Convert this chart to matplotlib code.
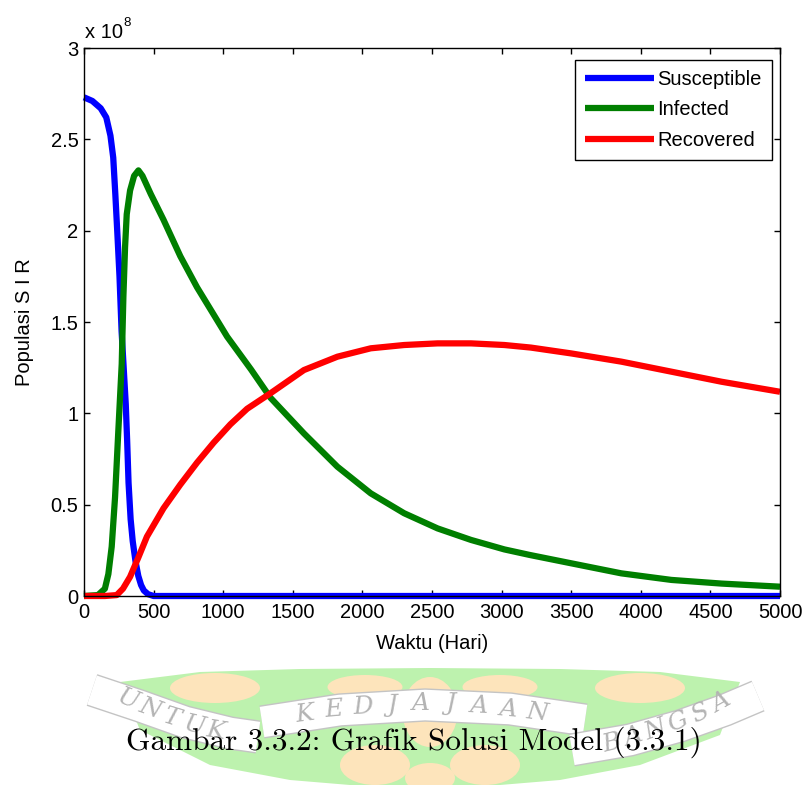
import numpy as np
import matplotlib.pyplot as plt
from matplotlib.patches import Polygon, Ellipse

plt.rcParams['font.family'] = ['Liberation Sans', 'DejaVu Sans']

# populasi dalam satuan 1e8
t_s = [0, 60, 120, 160, 190, 210, 225, 240, 255, 270, 285, 300, 310, 320, 335, 350, 370, 390, 410, 430, 460, 500, 1000, 5000]
s_val = [2.73, 2.71, 2.67, 2.62, 2.52, 2.40, 2.20, 1.98, 1.75, 1.45, 1.25, 1.05, 0.85, 0.62, 0.42, 0.30, 0.19, 0.11, 0.06, 0.03, 0.01, 0.0, 0.0, 0.0]

t_i = [0, 100, 150, 175, 199, 223, 247, 271, 283, 295, 307, 331, 360, 391, 420, 480, 571, 692, 812, 1028, 1200, 1340,
       1580, 1820, 2060, 2300, 2540, 2780, 3020, 3200, 3500, 3860, 4220, 4580, 5000]
i_val = [0.0, 0.005, 0.04, 0.12, 0.27, 0.54, 0.91, 1.27, 1.64, 1.91, 2.09, 2.22, 2.30, 2.33, 2.30, 2.20, 2.06, 1.86, 1.69, 1.42, 1.24, 1.085,
         0.89, 0.708, 0.562, 0.453, 0.37, 0.307, 0.255, 0.225, 0.179, 0.124, 0.088, 0.068, 0.051]

t_r = [0, 150, 235, 280, 331, 390, 452, 571, 692, 812, 932, 1052, 1172, 1340, 1580, 1820, 2060, 2300, 2540, 2780, 3020,
       3210, 3500, 3860, 4220, 4580, 5000]
r_val = [0.0, 0.0, 0.005, 0.04, 0.105, 0.21, 0.325, 0.48, 0.61, 0.73, 0.84, 0.94, 1.025, 1.11, 1.237, 1.31, 1.356, 1.374, 1.383, 1.383, 1.374,
         1.36, 1.328, 1.283, 1.228, 1.173, 1.118]

labels = ['Susceptible', 'Infected', 'Recovered']
line_colors = ['#0000ff', '#007f00', '#ff0000']
x_ticks = np.arange(0, 5001, 500)
y_ticks = np.arange(0, 3.01, 0.5)

fig = plt.figure(figsize=(8.05, 7.85), dpi=100)

# latar untuk teks & watermark (koordinat piksel)
bg = fig.add_axes([0, 0, 1, 1], zorder=0)
bg.set_xlim(0, 805)
bg.set_ylim(785, 0)
bg.axis('off')

green = Polygon([(120, 682), (200, 672), (300, 669), (430, 668), (560, 669), (660, 672), (740, 682),
                 (720, 735), (640, 765), (560, 780), (500, 785), (350, 785), (290, 780), (210, 765), (140, 730)],
                closed=True, fc='#bdf2ae', ec='none')
bg.add_patch(green)
for (cx, cy, w, h) in [(215, 688, 90, 30), (365, 687, 75, 24), (430, 712, 55, 70), (500, 687, 75, 24),
                       (640, 688, 90, 30), (375, 765, 70, 40), (485, 765, 70, 40), (430, 778, 50, 30)]:
    bg.add_patch(Ellipse((cx, cy), w, h, fc='#fde4bb', ec='none'))

ribbons = [([92, 140, 185, 230, 258], [690, 706, 722, 733, 737]),
           ([262, 340, 425, 510, 585], [722, 710, 705, 709, 720]),
           ([572, 630, 680, 725, 758], [750, 740, 726, 710, 696])]
for xs, ys in ribbons:
    bg.plot(xs, ys, color='#c4c4c4', lw=24, solid_capstyle='butt', solid_joinstyle='round')
    bg.plot(xs, ys, color='white', lw=22, solid_capstyle='butt', solid_joinstyle='round')

wm = [('U', 128, 700, -22), ('N', 150, 709, -20), ('T', 172, 718, -17), ('U', 194, 726, -13), ('K', 216, 731, -9),
      ('K', 305, 714, 7), ('E', 334, 710, 5), ('D', 363, 707, 3), ('J', 392, 705, 1), ('A', 421, 704, 0),
      ('J', 450, 704, -1), ('A', 479, 706, -3), ('A', 508, 709, -5), ('N', 537, 713, -7),
      ('B', 612, 743, 14), ('A', 634, 737, 17), ('N', 656, 730, 20), ('G', 678, 722, 23), ('S', 700, 713, 26), ('A', 722, 703, 29)]
for ch, x, y, rot in wm:
    bg.text(x, y, ch, fontsize=18, family='DejaVu Serif', style='italic', color='#b4b4b4',
            ha='center', va='center', rotation=rot)

bg.text(414, 750, 'Gambar 3.3.2: Grafik Solusi Model (3.3.1)', family='cmr10',
        fontsize=22.5, ha='center', va='baseline', color='black', zorder=5)

bg.text(85, 37.5, 'x 10', fontsize=14.5, ha='left', va='baseline')
bg.text(123, 26, '8', fontsize=9.5, ha='left', va='baseline')

# plot utama
ax = fig.add_axes([84 / 805, 1 - 596 / 785, 696 / 805, 548 / 785], zorder=1)
for tt, vv, lab, col in zip([t_s, t_i, t_r], [s_val, i_val, r_val], labels, line_colors):
    ax.plot(tt, vv, color=col, lw=4.5, label=lab, solid_capstyle='butt', clip_on=False)

ax.set_xlim(0, 5000)
ax.set_ylim(0, 3)
ax.set_xticks(x_ticks)
ax.set_yticks(y_ticks)
ax.set_yticklabels(['%g' % v for v in y_ticks])
ax.tick_params(direction='in', top=True, right=True, length=4.3, width=1, labelsize=14.5)
ax.tick_params(axis='x', pad=5)
ax.tick_params(axis='y', pad=4)
for sp in ax.spines.values():
    sp.set_linewidth(1)

ax.set_xlabel('Waktu (Hari)', fontsize=14.5)
ax.set_ylabel('Populasi S I R', fontsize=14.5)
ax.xaxis.set_label_coords(0.5, -0.069)
ax.yaxis.set_label_coords(-0.072, 0.5)

leg = ax.legend(loc='upper right', bbox_to_anchor=(0.9885, 0.978), borderaxespad=0, fontsize=14.5,
                fancybox=False, framealpha=1, edgecolor='black', handlelength=3.4, handletextpad=0.2,
                labelspacing=0.56, borderpad=0.5)
leg.get_frame().set_linewidth(1)

fig.savefig('out.png', dpi=100)
